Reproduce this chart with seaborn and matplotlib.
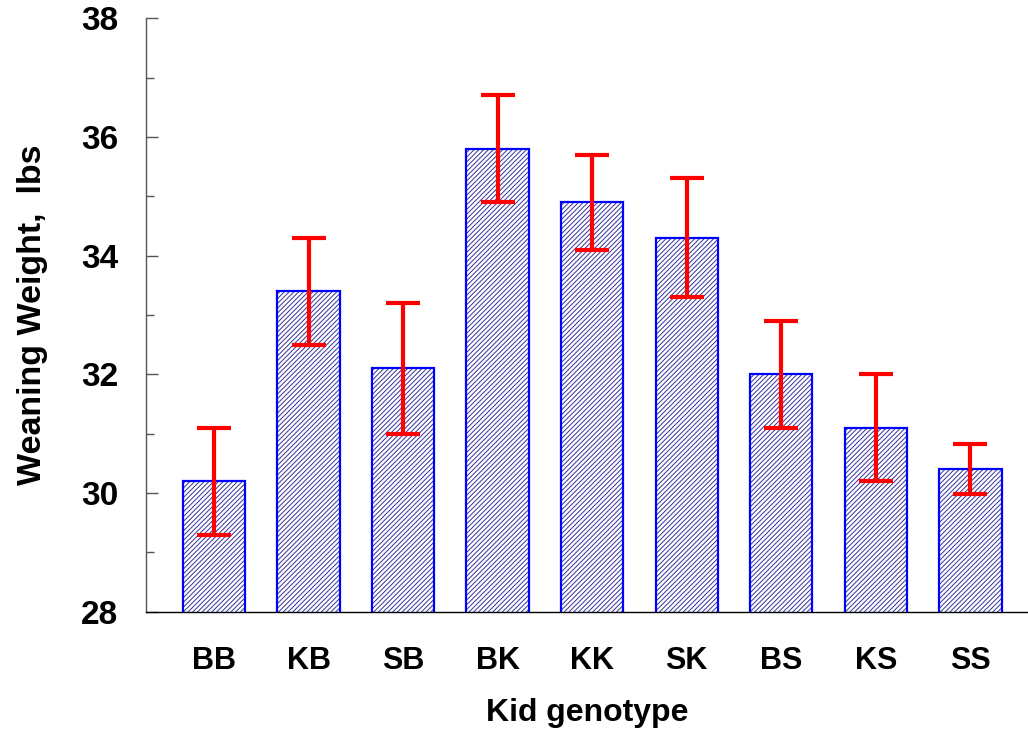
import matplotlib
matplotlib.use('Agg')
import matplotlib.pyplot as plt
import seaborn as sns
import pandas as pd
from matplotlib.ticker import MultipleLocator

# Data
genotypes = ['BB', 'KB', 'SB', 'BK', 'KK', 'SK', 'BS', 'KS', 'SS']
weights = [30.2, 33.4, 32.1, 35.8, 34.9, 34.3, 32.0, 31.1, 30.4]
errors = [0.9, 0.9, 1.1, 0.9, 0.8, 1.0, 0.9, 0.9, 0.42]

df = pd.DataFrame({'Genotype': genotypes, 'Weight': weights, 'Err': errors})

sns.set_style('white')
plt.rcParams['font.family'] = ['Liberation Sans', 'DejaVu Sans']
plt.rcParams['hatch.linewidth'] = 0.7
plt.rcParams['text.color'] = 'black'
plt.rcParams['axes.labelcolor'] = 'black'
plt.rcParams['xtick.color'] = 'black'
plt.rcParams['ytick.color'] = 'black'

fig = plt.figure(figsize=(10.28, 7.3), dpi=100)
ax = fig.add_axes([0.142, 0.162, 0.858, 0.813])

# hatched fill
sns.barplot(data=df, x='Genotype', y='Weight', color='white', edgecolor='#33339a',
            linewidth=0, hatch='///////', width=0.66, errorbar=None, ax=ax)
# blue outline
sns.barplot(data=df, x='Genotype', y='Weight', fill=False, edgecolor='#0000ff',
            linewidth=1.6, width=0.66, errorbar=None, ax=ax)

ax.errorbar(df['Genotype'], df['Weight'], yerr=df['Err'], fmt='none',
            ecolor='#ff0000', elinewidth=3, capsize=12, capthick=3, zorder=5)

ax.set_ylim(28, 38)
ax.set_xlim(-0.72, 8.61)
ax.yaxis.set_major_locator(MultipleLocator(2))
ax.yaxis.set_minor_locator(MultipleLocator(1))

for s in ['top', 'right']:
    ax.spines[s].set_visible(False)
ax.spines['left'].set_color('#555555')
ax.spines['bottom'].set_color('black')
ax.spines['left'].set_linewidth(1.0)
ax.spines['bottom'].set_linewidth(1.0)

ax.tick_params(axis='y', which='major', direction='in', length=8.5, width=1,
               color='#555555', pad=20, labelsize=24, left=True, labelcolor='black')
ax.tick_params(axis='y', which='minor', direction='in', length=6, width=1,
               color='#555555', left=True)
ax.tick_params(axis='x', which='both', bottom=False, pad=21, labelsize=22,
               labelcolor='black')

for lab in ax.get_yticklabels():
    lab.set_fontweight('bold')
for lab in ax.get_xticklabels():
    lab.set_fontweight('bold')

ax.set_xlabel('Kid genotype', fontsize=23, fontweight='bold', labelpad=16)
ax.set_ylabel('Weaning Weight,  lbs', fontsize=24.5, fontweight='bold', labelpad=24)

fig.savefig('out.png', dpi=100)
